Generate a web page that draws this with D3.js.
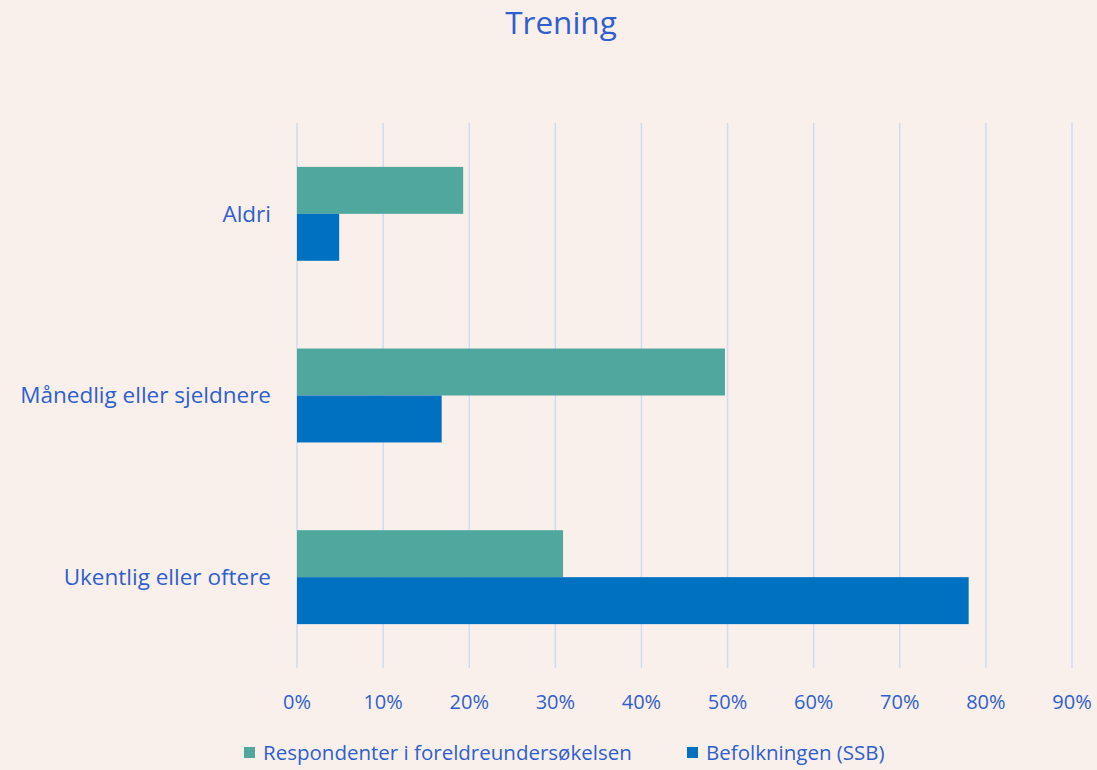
<!DOCTYPE html>
<html>
<head>
<meta charset="utf-8">
<script src="https://cdn.jsdelivr.net/npm/d3@7"></script>
<style>
  body { margin: 0; background: #FAF0EB; }
  text { font-family: "Open Sans", "Liberation Sans", sans-serif; fill: #2F5FCF; }
</style>
</head>
<body>
<script>
// data
const categories = ["Aldri", "Månedlig eller sjeldnere", "Ukentlig eller oftere"]
const seriesNames = ["Respondenter i foreldreundersøkelsen", "Befolkningen (SSB)"]
const respondenter = [19.3, 49.7, 30.9]
const befolkningen = [4.9, 16.8, 78.0]
const ticks = [0, 10, 20, 30, 40, 50, 60, 70, 80, 90]
const colors = ["#4FA79D", "#0070C0"]

const width = 1097, height = 770
const svg = d3.select("body").append("svg").attr("width", width).attr("height", height)

svg.append("rect").attr("width", width).attr("height", height).attr("fill", "#FAF0EB")

// title
svg.append("text").text("Trening").attr("x", 561).attr("y", 34)
  .attr("text-anchor", "middle").attr("font-size", "31.5px")

const x = d3.scaleLinear().domain([0, 90]).range([297, 1072])
const y = d3.scaleBand().domain(categories).range([123, 668]).paddingInner(0.483).paddingOuter(0.2415)
const ySub = d3.scaleBand().domain(seriesNames).range([0, y.bandwidth()])

// gridlines
svg.selectAll(".grid").data(ticks).enter().append("line")
  .attr("x1", d => x(d)).attr("x2", d => x(d))
  .attr("y1", 123).attr("y2", 668)
  .attr("stroke", "#CFDBF3").attr("stroke-width", 1.5)

// bars
const rows = categories.map((c, i) => ({ cat: c, vals: [respondenter[i], befolkningen[i]] }))
const groups = svg.selectAll(".grp").data(rows).enter().append("g")
  .attr("transform", d => `translate(0,${y(d.cat)})`)

groups.selectAll("rect").data(d => d.vals.map((v, j) => ({ name: seriesNames[j], v: v, j: j }))).enter().append("rect")
  .attr("x", x(0))
  .attr("y", d => ySub(d.name))
  .attr("width", d => x(d.v) - x(0))
  .attr("height", ySub.bandwidth())
  .attr("fill", d => colors[d.j])

// category labels
svg.selectAll(".cat").data(categories).enter().append("text")
  .text(d => d)
  .attr("x", 271)
  .attr("y", d => y(d) + y.bandwidth() / 2)
  .attr("dy", "0.35em")
  .attr("text-anchor", "end")
  .attr("font-size", "22.5px")

// x tick labels
svg.selectAll(".tick").data(ticks).enter().append("text")
  .text(d => d + "%")
  .attr("x", d => x(d))
  .attr("y", 702)
  .attr("dy", "0.35em")
  .attr("text-anchor", "middle")
  .attr("font-size", "20px")

// legend
const legX = [244, 687]
seriesNames.forEach((s, i) => {
  svg.append("rect").attr("x", legX[i]).attr("y", 747).attr("width", 11).attr("height", 11).attr("fill", colors[i])
  svg.append("text").text(s).attr("x", legX[i] + 19).attr("y", 753).attr("dy", "0.35em").attr("font-size", "20.5px")
})
</script>
</body>
</html>
